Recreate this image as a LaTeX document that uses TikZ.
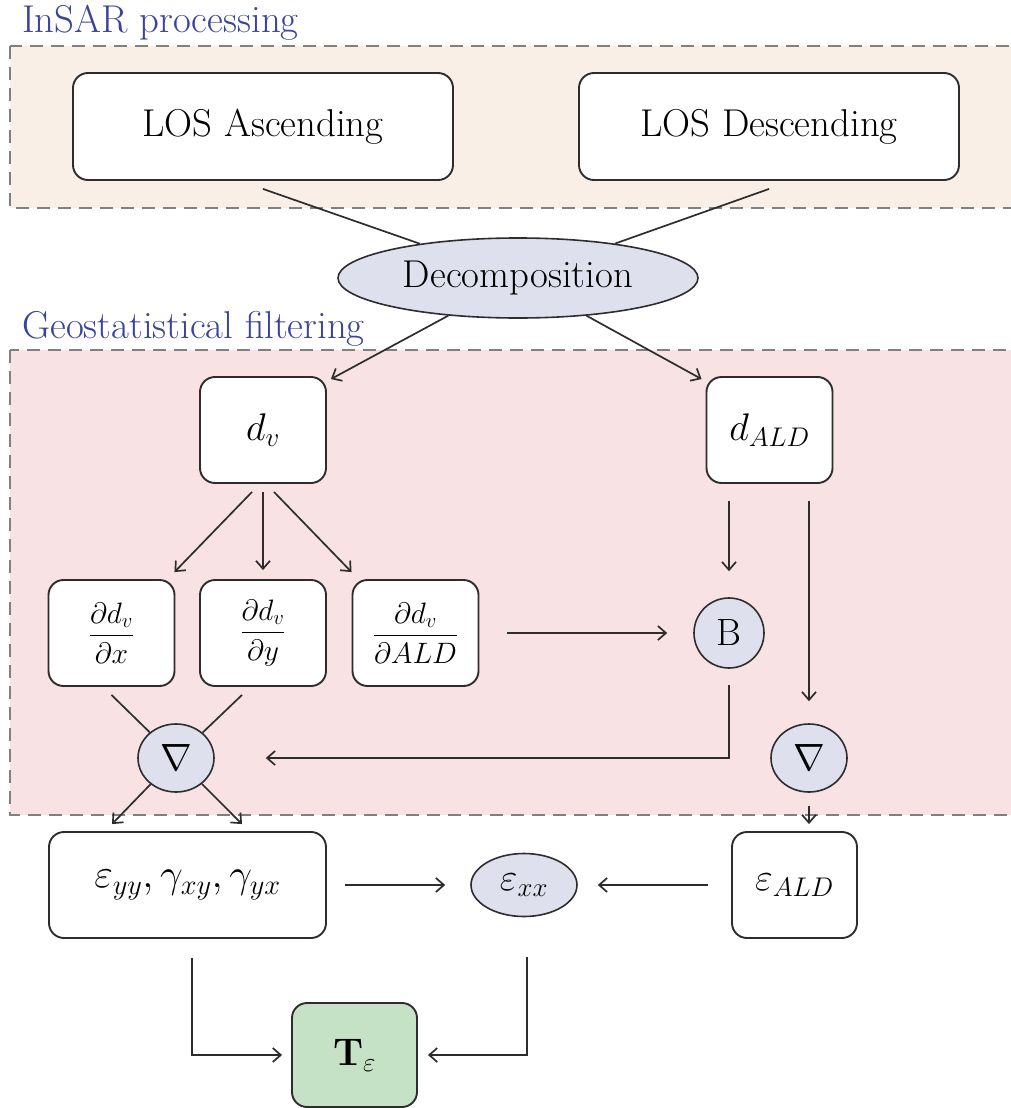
\documentclass[tikz,border=0pt]{standalone}
\usepackage{fix-cm}
\usepackage{amsmath}
\usetikzlibrary{arrows.meta,shapes.geometric,calc}
\definecolor{lblue}{RGB}{58,66,156}
\definecolor{beigebg}{RGB}{249,239,230}
\definecolor{pinkbg}{RGB}{248,226,227}
\definecolor{lav}{RGB}{223,224,238}
\definecolor{greenf}{RGB}{198,226,198}
\definecolor{edgec}{RGB}{45,45,45}
\definecolor{dashc}{RGB}{128,128,128}
\begin{document}
\begin{tikzpicture}[x=1pt,y=1pt,
  font=\fontsize{38.8}{46}\selectfont,
  box/.style={draw=edgec,line width=1.9pt,rounded corners=15pt,fill=white,inner sep=0pt,minimum height=106pt},
  mathbox/.style={box,font=\fontsize{38.5}{45}\selectfont},
  fracbox/.style={box,font=\fontsize{29.5}{35}\selectfont},
  oval/.style={ellipse,draw=edgec,line width=1.6pt,fill=lav,inner sep=0pt},
  conn/.style={draw=edgec,line width=1.7pt},
  arr/.style={conn,-{Straight Barb[length=8pt,width=14pt]}},
  region/.style={draw=dashc,line width=2pt,dash pattern=on 13pt off 8pt},
  grp/.style={text=lblue,anchor=base west,inner sep=0pt}
]
\useasboundingbox (0,0) rectangle (1011,-1108);
\path[region,fill=beigebg] (10,-46) rectangle (1030,-208);
\path[region,fill=pinkbg] (10,-350) rectangle (1030,-815);
\node[grp] (lab1) at (22,-33) {InSAR processing};
\node[grp] (lab2) at (22,-338) {Geostatistical filtering};

\node[box,minimum width=380pt,minimum height=107pt] (asc) at (263,-126.5) {LOS Ascending};
\node[box,minimum width=380pt,minimum height=107pt] (desc) at (769,-126.5) {LOS Descending};
\node[oval,minimum width=360pt,minimum height=80pt] (dec) at (518,-278) {Decomposition};
\node[mathbox,minimum width=126pt] (dv) at (263,-430) {$d_v$};
\node[mathbox,minimum width=126pt] (dald) at (769.5,-430) {$d_{ALD}$};
\node[fracbox,minimum width=126pt] (px) at (111.5,-633) {$\dfrac{\partial d_v}{\partial x}$};
\node[fracbox,minimum width=126pt] (py) at (263,-633) {$\dfrac{\partial d_v}{\partial y}$};
\node[fracbox,minimum width=126pt] (pald) at (415.5,-633) {$\dfrac{\partial d_v}{\partial ALD}$};
\node[oval,circle,minimum size=70pt,font=\fontsize{38}{44}\selectfont] (B) at (729,-633) {B};
\node[oval,minimum width=76pt,minimum height=68pt,font=\fontsize{38}{44}\selectfont] (nabL) at (176,-758) {$\nabla$};
\node[oval,minimum width=76pt,minimum height=68pt,font=\fontsize{38}{44}\selectfont] (nabR) at (809,-758) {$\nabla$};
\node[mathbox,minimum width=277pt,font=\fontsize{40.5}{46}\selectfont] (strain) at (187.5,-885) {$\varepsilon_{yy},\gamma_{xy},\gamma_{yx}$};
\node[oval,minimum width=106pt,minimum height=63pt,font=\fontsize{38.5}{45}\selectfont] (exx) at (524,-885) {$\varepsilon_{xx}$};
\node[mathbox,minimum width=125pt] (eald) at (794.5,-885) {$\varepsilon_{ALD}$};
\node[mathbox,minimum width=125pt,minimum height=104pt,fill=greenf] (T) at (354.5,-1055) {$\mathbf{T}_\varepsilon$};

\draw[conn] ([yshift=-8pt]asc.south) -- (dec);
\draw[conn] ([yshift=-8pt]desc.south) -- (dec);
\draw[arr] (dec) -- ([shift={(4pt,-3pt)}]dv.north east);
\draw[arr] (dec) -- ([shift={(-4pt,-3pt)}]dald.north west);

\draw[arr] ([shift={(-11pt,-8pt)}]dv.south) -- ([shift={(-1pt,7pt)}]px.north east);
\draw[arr] ([yshift=-8pt]dv.south) -- ([yshift=9pt]py.north);
\draw[arr] ([shift={(11pt,-8pt)}]dv.south) -- ([yshift=7pt]pald.north west);

\draw[conn] ([yshift=-8pt]px.south) -- (nabL);
\draw[conn] ([shift={(-21pt,-8pt)}]py.south) -- (nabL);
\draw[arr] (nabL) -- ([shift={(-75.5pt,7pt)}]strain.north);
\draw[arr] (nabL) -- ([shift={(54.5pt,7pt)}]strain.north);

\draw[arr] ($(B.north |- dald.south)+(0,-17)$) -- ($(B.north)+(0,26)$);
\draw[arr] ($(nabR.north |- dald.south)+(0,-17)$) -- ($(nabR.north)+(0,22)$);
\draw[arr] ([xshift=28pt]pald.east) -- ([xshift=-26pt]B.west);
\draw[arr] ([yshift=-16pt]B.south) |- ([xshift=51pt]nabL.east);
\draw[arr] ([yshift=-13pt]nabR.south) -- ($(nabR.south |- eald.north)+(0,7)$);

\draw[arr] ([xshift=18pt]strain.east) -- ([xshift=-25pt]exx.west);
\draw[arr] ([xshift=-23pt]eald.west) -- ([xshift=20pt]exx.east);
\draw[arr] ([shift={(4.5pt,-19pt)}]strain.south) |- ([xshift=-9pt]T.west);
\draw[arr] ([shift={(3pt,-40pt)}]exx.south) |- ([xshift=10pt]T.east);
\end{tikzpicture}
\end{document}
